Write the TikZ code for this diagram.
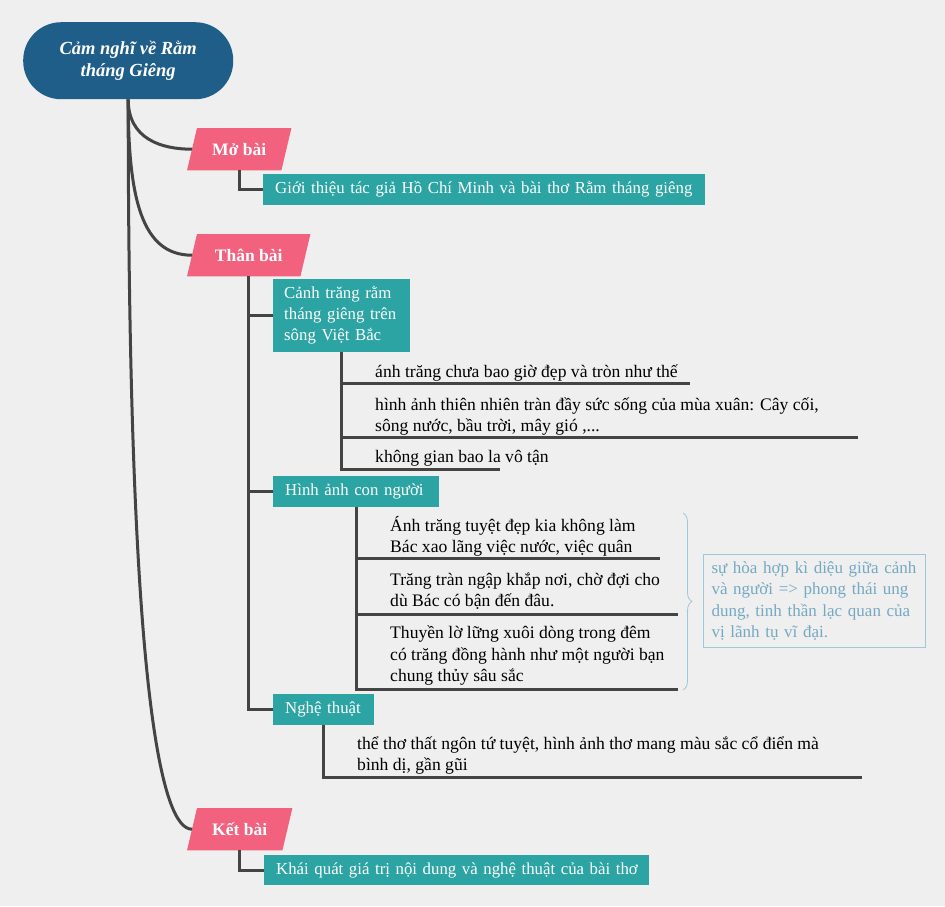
\documentclass[tikz,border=0pt]{standalone}
\usepackage{fontspec}
\setmainfont{Liberation Serif}
\usetikzlibrary{decorations.pathreplacing}
\pgfdeclarelayer{bg}
\pgfsetlayers{bg,main}
\definecolor{rootblue}{HTML}{1F5E88}
\definecolor{pinkc}{HTML}{F2627F}
\definecolor{tealc}{HTML}{2CA4A4}
\definecolor{linec}{HTML}{444444}
\definecolor{bgc}{HTML}{EFEFEF}
\definecolor{notec}{HTML}{74A9C2}
\definecolor{notebd}{HTML}{9EC8DA}
\tikzset{
  body/.style={font=\fontsize{17.6}{21.5}\selectfont, text=black, inner sep=0pt, align=left, anchor=base west},
  tealbox/.style={fill=tealc, text=white, font=\fontsize{16.8}{21}\selectfont, align=left, inner xsep=12pt, inner ysep=0pt, anchor=north west},
  pinklabel/.style={text=white, font=\bfseries\fontsize{17.5}{21}\selectfont, minimum height=42pt, inner sep=0pt, anchor=north west},
  conn/.style={draw=linec, line width=3pt},
  pinkfill/.style={fill=pinkc},
}
\newcommand{\pinkshape}[1]{%
  \begin{pgfonlayer}{bg}
    \fill[pinkfill] ([xshift=10pt]#1.north west) -- (#1.north east) -- ([xshift=-10pt]#1.south east) -- (#1.south west) -- cycle;
  \end{pgfonlayer}}
\begin{document}
\begin{tikzpicture}[x=1pt,y=-1pt]
\begin{pgfonlayer}{bg}
  \fill[bgc] (0,0) rectangle (945,906);
\end{pgfonlayer}
\useasboundingbox (0,0) rectangle (945,906);

% root
\node[fill=rootblue, rounded corners=38pt, minimum width=210pt, minimum height=77pt, text=white,
      font=\bfseries\itshape\fontsize{18.5}{22}\selectfont, align=center, anchor=north west, inner sep=0pt]
      (root) at (23,22) {Cảm nghĩ về Rằm\\tháng Giêng};

% main topics
\node[pinklabel, minimum width=104pt] (mo) at (187,128) {Mở bài};
\pinkshape{mo}
\node[pinklabel, minimum width=123pt] (than) at (187,234) {Thân bài};
\pinkshape{than}
\node[pinklabel, minimum width=105pt] (ket) at (187,808) {Kết bài};
\pinkshape{ket}

\draw[conn] (root.south) .. controls +(0,40) and +(-30,0) .. ([xshift=5pt]mo.west);
\draw[conn] (root.south) .. controls +(0,100) and +(-50,0) .. ([xshift=5pt]than.west);
\draw[conn] (root.south) .. controls +(0,600) and +(-30,0) .. ([xshift=5pt]ket.west);

% Mở bài
\node[tealbox, text width=418pt, minimum height=31pt] (gt) at (263,174) {\mbox{Giới thiệu tác giả Hồ Chí Minh và bài thơ Rằm tháng giêng}};
\draw[conn] (mo.south) |- (gt.west);

% Thân bài subtopics
\node[tealbox, inner xsep=11pt, text width=115pt, minimum height=73pt] (canh) at (273,279) {\mbox{Cảnh trăng rằm}\\\mbox{tháng giêng trên}\\\mbox{sông Việt Bắc}};
\node[tealbox, text width=142pt, minimum height=31pt] (hinh) at (273,476) {\mbox{Hình ảnh con người}};
\node[tealbox, text width=77pt, minimum height=31pt] (nghe) at (273,694) {\mbox{Nghệ thuật}};
\draw[conn] (than.south) |- (canh.west);
\draw[conn] (than.south) |- (hinh.west);
\draw[conn] (than.south) |- (nghe.west);

% Cảnh trăng items
\coordinate (c1e) at (690,383);
\coordinate (c2e) at (858,437);
\coordinate (c3e) at (500,469);
\draw[conn] (canh.south) |- (c1e);
\draw[conn] (canh.south) |- (c2e);
\draw[conn] (canh.south) |- (c3e);
\node[body] (c1) at (375,377) {ánh trăng chưa bao giờ đẹp và tròn như thế};
\node[body] (c2) at (375,431.5) {hình ảnh thiên nhiên tràn đầy sức sống của mùa xuân: Cây cối,\\sông nước, bầu trời, mây gió ,...};
\node[body] (c3) at (375,462) {không gian bao la vô tận};

% Hình ảnh con người items
\coordinate (h1e) at (660,558);
\coordinate (h2e) at (678,614);
\coordinate (h3e) at (678,689);
\draw[conn] (hinh.south) |- (h1e);
\draw[conn] (hinh.south) |- (h2e);
\draw[conn] (hinh.south) |- (h3e);
\node[body] (h1) at (390,552.5) {Ánh trăng tuyệt đẹp kia không làm\\Bác xao lãng việc nước, việc quân};
\node[body] (h2) at (390,606.5) {Trăng tràn ngập khắp nơi, chờ đợi cho\\dù Bác có bận đến đâu.};
\node[body] (h3) at (390,681.5) {Thuyền lờ lững xuôi dòng trong đêm\\có trăng đồng hành như một người bạn\\chung thủy sâu sắc};

% brace and summary
\coordinate (bt) at (683,513);
\coordinate (bb) at (683,690);
\draw[notebd, line width=0.8pt, decorate, decoration={brace, amplitude=9pt}] (bt) -- (bb);
\node[draw=notebd, line width=1pt, text=notec, font=\fontsize{17}{21.5}\selectfont, text width=206pt,
      inner xsep=8pt, inner ysep=0pt, minimum height=93pt, anchor=north west, align=left]
      (sum) at (703,554) {sự hòa hợp kì diệu giữa cảnh\\và người => phong thái ung\\dung, tinh thần lạc quan của\\vị lãnh tụ vĩ đại.};

% Nghệ thuật item
\coordinate (n1e) at (862,777);
\draw[conn] (nghe.south) |- (n1e);
\node[body] (n1) at (357,770.5) {thể thơ thất ngôn tứ tuyệt, hình ảnh thơ mang màu sắc cổ điển mà\\bình dị, gần gũi};

% Kết bài
\node[tealbox, text width=361pt, minimum height=30pt] (kq) at (264,855) {\mbox{Khái quát giá trị nội dung và nghệ thuật của bài thơ}};
\draw[conn] (ket.south) |- (kq.west);
\end{tikzpicture}
\end{document}
